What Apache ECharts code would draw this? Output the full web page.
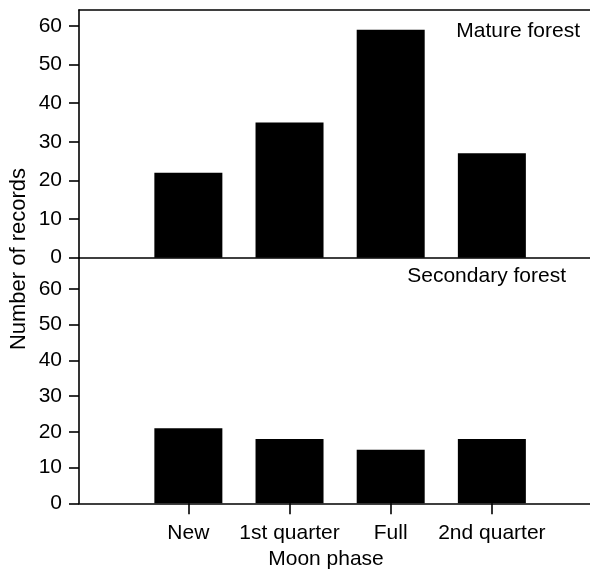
<!DOCTYPE html>
<html>
<head>
<meta charset="utf-8">
<script src="https://cdn.jsdelivr.net/npm/echarts@6/dist/echarts.min.js"></script>
<style>html,body{margin:0;padding:0;background:#fff}#c{width:590px;height:570px}</style>
</head>
<body>
<div id="c"></div>
<script>
const categories = ['New', '1st quarter', 'Full', '2nd quarter'];
const categoryPositions = [1, 2, 3, 4];
const matureForest = [22, 35, 59, 27];
const secondaryForest = [21, 18, 15, 18];
const yTicks = [0, 10, 20, 30, 40, 50, 60];
const panelTitles = ['Mature forest', 'Secondary forest'];
const xTitle = 'Moon phase';
const yTitle = 'Number of records';

const FONT = 'Liberation Sans, Arial, sans-serif';
const FS = 21;
const lineStyle = { color: '#000', width: 1.6 };

const chart = echarts.init(document.getElementById('c'), null, { renderer: 'canvas' });

function xAxisFor(gridIndex, showLabels) {
  return {
    type: 'value', gridIndex: gridIndex, min: -0.081, max: 4.97,
    splitLine: { show: false },
    axisLine: { show: true, onZero: false, lineStyle: lineStyle },
    axisTick: { show: showLabels, inside: false, length: 11, customValues: categoryPositions, lineStyle: lineStyle },
    axisLabel: {
      show: showLabels, customValues: categoryPositions, margin: 19,
      color: '#000', fontFamily: FONT, fontSize: FS,
      formatter: v => categories[Math.round(v) - 1] || ''
    }
  };
}
function yAxisFor(gridIndex, max) {
  return {
    type: 'value', gridIndex: gridIndex, min: 0, max: max,
    splitLine: { show: false },
    axisLine: { show: true, onZero: false, lineStyle: lineStyle },
    axisTick: { show: true, length: 10, customValues: yTicks, lineStyle: lineStyle },
    axisLabel: { customValues: yTicks, margin: 17, color: '#000', fontFamily: FONT, fontSize: FS }
  };
}

chart.setOption({
  animation: false,
  backgroundColor: '#fff',
  grid: [
    { left: 79, top: 10, right: 0, height: 247.7 },
    { left: 79, top: 257.7, right: 0, height: 245.6 }
  ],
  xAxis: [
    xAxisFor(0, false),
    xAxisFor(1, true),
    { type: 'value', gridIndex: 0, position: 'top', min: 0, max: 1,
      axisLine: { show: true, onZero: false, lineStyle: lineStyle }, axisTick: { show: false },
      axisLabel: { show: false }, splitLine: { show: false } }
  ],
  yAxis: [ yAxisFor(0, 64.1), yAxisFor(1, 68.75) ],
  series: [
    { type: 'bar', xAxisIndex: 0, yAxisIndex: 0, barWidth: 68,
      itemStyle: { color: '#000' },
      data: categoryPositions.map((p, i) => [p, matureForest[i]]) },
    { type: 'bar', xAxisIndex: 1, yAxisIndex: 1, barWidth: 68,
      itemStyle: { color: '#000' },
      data: categoryPositions.map((p, i) => [p, secondaryForest[i]]) }
  ],
  graphic: [
    { type: 'text', right: 10, top: 21, style: { text: panelTitles[0], fill: '#000', font: FS + 'px ' + FONT } },
    { type: 'text', right: 24, top: 266, style: { text: panelTitles[1], fill: '#000', font: FS + 'px ' + FONT } },
    { type: 'text', x: 326, y: 559.5, style: { text: xTitle, fill: '#000', font: FS + 'px ' + FONT, align: 'center', verticalAlign: 'middle' } },
    { type: 'text', x: 19, y: 259, rotation: Math.PI / 2, style: { text: yTitle, fill: '#000', font: '22px ' + FONT, align: 'center', verticalAlign: 'middle' } }
  ]
});
</script>
</body>
</html>
